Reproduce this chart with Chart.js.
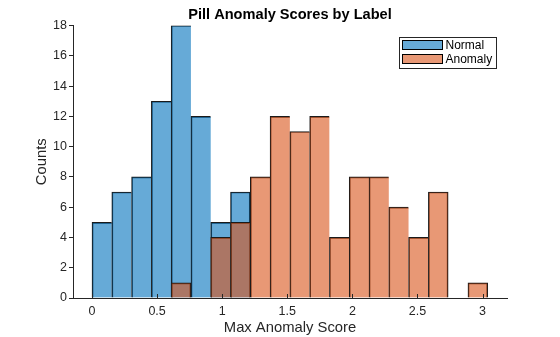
<!DOCTYPE html>
<html>
<head>
<meta charset="utf-8">
<script src="https://cdn.jsdelivr.net/npm/chart.js@4/dist/chart.umd.min.js"></script>
<style>
  html, body { margin: 0; padding: 0; background: #fff; }
</style>
</head>
<body>
<canvas id="chart" width="560" height="337"></canvas>
<script>
// histogram bins (centres), bin width ~0.152
const binCenters = [0.076, 0.228, 0.38, 0.532, 0.684, 0.836, 0.988, 1.14, 1.292, 1.444,
                    1.596, 1.748, 1.9, 2.052, 2.204, 2.356, 2.508, 2.66, 2.812, 2.964];
const normalCounts  = [5, 7, 8, 13, 18, 12, 5, 7, 0, 0, 0, 0, 0, 0, 0, 0, 0, 0, 0, 0];
const anomalyCounts = [0, 0, 0, 0, 1, 0, 4, 5, 8, 12, 11, 12, 4, 8, 8, 6, 4, 7, 0, 1];
const xTicks = [0, 0.5, 1, 1.5, 2, 2.5, 3];
const yTicks = [0, 2, 4, 6, 8, 10, 12, 14, 16, 18];

const FONT = "'Liberation Sans', Arial, Helvetica, sans-serif";
const INK = '#262626';
const BLUE = 'rgba(0, 114, 189, 0.6)';
const ORANGE = 'rgba(217, 83, 25, 0.6)';

// one shared edge between neighbouring bars instead of two inset borders
const edgeWidth = counts => ctx => {
  const next = counts[ctx.dataIndex + 1];
  return { top: 1, left: 1, bottom: 0, right: next ? 0 : 1 };
};

// MATLAB-like boxed legend in upper right + inward x ticks
const extras = {
  id: 'extras',
  afterDatasetsDraw(chart) {
    const ctx = chart.ctx;
    const xs = chart.scales.x;
    const area = chart.chartArea;
    ctx.save();
    ctx.strokeStyle = INK;
    ctx.lineWidth = 1;
    xTicks.forEach(v => {
      const px = Math.round(xs.getPixelForValue(v)) + 0.5;
      ctx.beginPath();
      ctx.moveTo(px, area.bottom);
      ctx.lineTo(px, area.bottom - 4);
      ctx.stroke();
    });
    ctx.restore();
  },
  afterDraw(chart) {
    const ctx = chart.ctx;
    const area = chart.chartArea;
    const w = 97, h = 31;
    const lx = Math.round(area.right - 11 - w) + 0.5;
    const ly = Math.round(area.top + 11) + 0.5;
    ctx.save();
    ctx.fillStyle = '#fff';
    ctx.fillRect(lx, ly, w, h);
    ctx.strokeStyle = INK;
    ctx.lineWidth = 1;
    ctx.strokeRect(lx, ly, w, h);
    ctx.font = '12px ' + FONT;
    ctx.textBaseline = 'middle';
    chart.data.datasets.forEach((ds, i) => {
      const sy = ly + 3 + i * 14;
      ctx.fillStyle = '#fff';
      ctx.fillRect(lx + 3, sy, 40, 9);
      ctx.fillStyle = ds.backgroundColor;
      ctx.fillRect(lx + 3, sy, 40, 9);
      ctx.strokeStyle = '#000';
      ctx.strokeRect(lx + 3, sy, 40, 9);
      ctx.fillStyle = '#000';
      ctx.fillText(ds.label, lx + 46, sy + 5);
    });
    ctx.restore();
  }
};

new Chart(document.getElementById('chart'), {
  type: 'bar',
  data: {
    datasets: [
      {
        label: 'Normal',
        data: binCenters.map((x, i) => ({ x, y: normalCounts[i] })),
        backgroundColor: BLUE,
        borderColor: '#1a1a1a',
        borderWidth: edgeWidth(normalCounts),
        borderSkipped: false,
        barPercentage: 1,
        categoryPercentage: 1,
        order: 2,
      },
      {
        label: 'Anomaly',
        data: binCenters.map((x, i) => ({ x, y: anomalyCounts[i] })),
        backgroundColor: ORANGE,
        borderColor: '#1a1a1a',
        borderWidth: edgeWidth(anomalyCounts),
        borderSkipped: false,
        barPercentage: 1,
        categoryPercentage: 1,
        order: 1,
      },
    ],
  },
  options: {
    responsive: false,
    animation: false,
    devicePixelRatio: 1,
    grouped: false,
    layout: { padding: { left: 0, right: 53, top: 0, bottom: 0 } },
    scales: {
      x: {
        type: 'linear',
        offset: false,
        min: -0.146,
        max: 3.188,
        afterBuildTicks: s => { s.ticks = xTicks.map(v => ({ value: v })); },
        afterFit: s => { s.height = 39; },
        ticks: {
          color: INK,
          font: { family: FONT, size: 12.5 },
          padding: 6,
          maxRotation: 0,
          callback: v => String(v),
        },
        grid: { drawOnChartArea: false, drawTicks: false, offset: false },
        border: { color: INK, width: 1 },
        title: {
          display: true,
          text: 'Max Anomaly Score',
          color: INK,
          font: { family: FONT, size: 14.8 },
          padding: { top: 0, bottom: 0 },
        },
      },
      y: {
        min: 0,
        max: 18,
        afterBuildTicks: s => { s.ticks = yTicks.map(v => ({ value: v })); },
        afterFit: s => { s.width = 73; },
        ticks: {
          color: INK,
          font: { family: FONT, size: 12.5 },
          padding: 2,
        },
        grid: { drawOnChartArea: false, drawTicks: true, tickLength: 4, color: INK },
        border: { color: INK, width: 1 },
        title: {
          display: true,
          text: 'Counts',
          color: INK,
          font: { family: FONT, size: 14.8 },
          padding: { top: 33, bottom: 0 },
        },
      },
    },
    plugins: {
      legend: { display: false },
      tooltip: { enabled: false },
      title: {
        display: true,
        fullSize: false,
        text: 'Pill Anomaly Scores by Label',
        color: '#000',
        font: { family: FONT, size: 14.6, weight: 'bold' },
        padding: { top: 6, bottom: 2 },
      },
    },
  },
  plugins: [extras],
});
</script>
</body>
</html>
